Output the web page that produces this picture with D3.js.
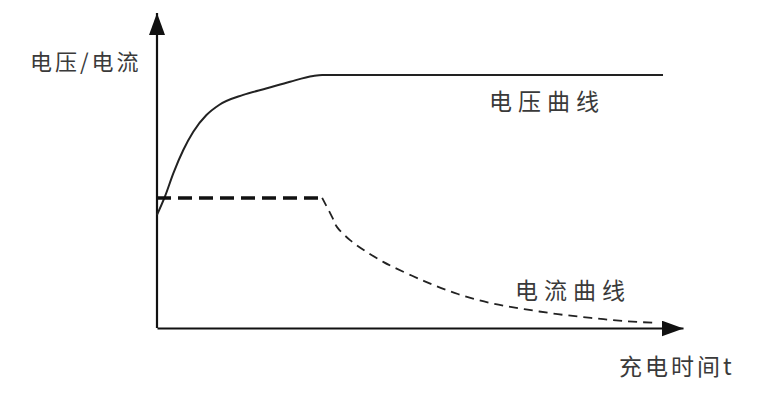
<!DOCTYPE html>
<html>
<head>
<meta charset="utf-8">
<script src="https://cdn.jsdelivr.net/npm/d3@7"></script>
<style>
  body { margin: 0; background: #fff; }
  text { font-family: "Noto Sans CJK SC", sans-serif; fill: #3a3a3a; }
</style>
</head>
<body>
<div id="chart"></div>
<script>
// values (time 0-100, level 0-100)
const voltageT = [0, 1.5, 3.1, 5.0, 6.9, 9.4, 11.8, 16.4, 20.9, 25.3, 29.7, 31.4, 96.2];
const voltageV = [35.9, 41.7, 49.1, 56.5, 62.3, 67.6, 70.8, 74.0, 76.1, 78.2, 80.0, 80.3, 80.3];

const currentFlatT = [0, 31.4];
const currentFlatV = [41.3, 41.3];

const currentDecayT = [31.4, 33.3, 34.2, 36.7, 39.9, 43, 44.5, 50.8, 57.2, 63.5, 69.8, 76.2, 82.5, 88.8, 95.2];
const currentDecayV = [41.3, 35.2, 32.1, 27.9, 24.1, 21, 19.7, 14.9, 10.8, 7.9, 6.0, 4.4, 3.2, 2.2, 1.6];

const labels = {
  yTitle: "电压/电流",
  xTitle: "充电时间t",
  voltage: "电压曲线",
  current: "电流曲线"
};

const width = 782, height = 412;
const margin = {top: 13, right: 99, bottom: 84, left: 157};

const svg = d3.select("#chart").append("svg")
    .attr("width", width)
    .attr("height", height);

const x = d3.scaleLinear()
    .domain([0, 100])
    .range([margin.left, width - margin.right]);

const y = d3.scaleLinear()
    .domain([0, 100])
    .range([height - margin.bottom, margin.top]);

const zip = (ts, vs) => ts.map((t, i) => ({t: t, v: vs[i]}));

// arrow heads
const defs = svg.append("defs");
defs.append("marker")
    .attr("id", "arrow")
    .attr("viewBox", "0 0 22 16")
    .attr("refX", 22).attr("refY", 8)
    .attr("markerWidth", 22).attr("markerHeight", 16)
    .attr("markerUnits", "userSpaceOnUse")
    .attr("orient", "auto")
    .append("path")
    .attr("d", "M0,0 L22,8 L0,16 Z")
    .attr("fill", "#111");

// axes, no ticks, just the lines
const xAxis = d3.axisBottom(x).ticks(0).tickSizeOuter(0);
const yAxis = d3.axisLeft(y).ticks(0).tickSizeOuter(0);

const gx = svg.append("g")
    .attr("class", "x-axis")
    .attr("transform", "translate(0," + y(0) + ")")
    .call(xAxis);
gx.select(".domain")
    .attr("stroke", "#111")
    .attr("stroke-width", 2.2)
    .attr("marker-end", "url(#arrow)");

const gy = svg.append("g")
    .attr("class", "y-axis")
    .attr("transform", "translate(" + x(0) + ",0)")
    .call(yAxis);
// draw upward so the arrow sits on top
gy.select(".domain")
    .attr("d", "M0," + y(0) + "V" + y(100))
    .attr("stroke", "#111")
    .attr("stroke-width", 2.2)
    .attr("marker-end", "url(#arrow)");

const line = d3.line()
    .x(d => x(d.t))
    .y(d => y(d.v))
    .curve(d3.curveCatmullRom.alpha(0.5));

// voltage curve (monotone keeps the plateau flat)
svg.append("path")
    .datum(zip(voltageT, voltageV))
    .attr("fill", "none")
    .attr("stroke", "#222")
    .attr("stroke-width", 2)
    .attr("d", d3.line().x(d => x(d.t)).y(d => y(d.v)).curve(d3.curveMonotoneX));

// current: constant part (thick dashes)
svg.append("path")
    .datum(zip(currentFlatT, currentFlatV))
    .attr("fill", "none")
    .attr("stroke", "#111")
    .attr("stroke-width", 3.5)
    .attr("stroke-dasharray", "14,7")
    .attr("d", line);

// current: decaying part (thin dashes)
svg.append("path")
    .datum(zip(currentDecayT, currentDecayV))
    .attr("fill", "none")
    .attr("stroke", "#222")
    .attr("stroke-width", 1.8)
    .attr("stroke-dasharray", "9,6")
    .attr("d", line);

// labels
svg.append("text")
    .attr("x", 30).attr("y", 70)
    .attr("font-size", 22)
    .attr("letter-spacing", 3)
    .text(labels.yTitle);

svg.append("text")
    .attr("x", 489).attr("y", 110)
    .attr("font-size", 23)
    .attr("letter-spacing", 6)
    .text(labels.voltage);

svg.append("text")
    .attr("x", 515).attr("y", 299)
    .attr("font-size", 23)
    .attr("letter-spacing", 6)
    .text(labels.current);

svg.append("text")
    .attr("x", 619).attr("y", 375)
    .attr("font-size", 23)
    .attr("letter-spacing", 3)
    .text(labels.xTitle);
</script>
</body>
</html>
